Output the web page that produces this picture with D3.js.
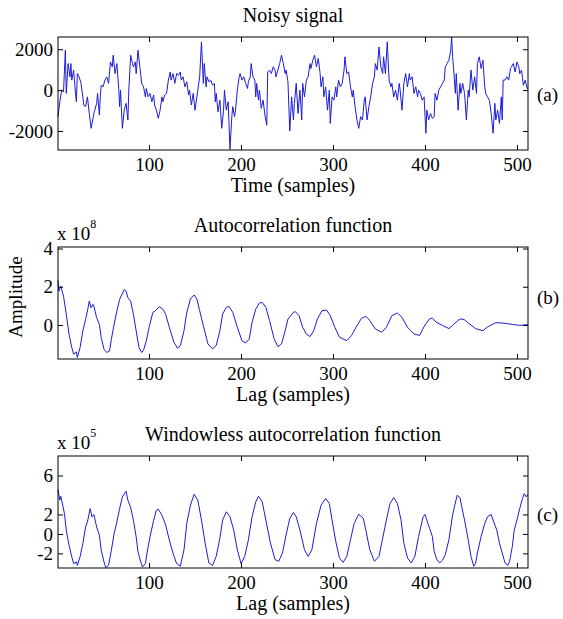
<!DOCTYPE html>
<html>
<head>
<meta charset="utf-8">
<script src="https://cdn.jsdelivr.net/npm/d3@7"></script>
<style>
  body { margin: 0; background: #fff; }
  svg text { font-family: "Liberation Serif", "Times New Roman", serif; fill: #000; }
</style>
</head>
<body>
<svg id="chart" width="563" height="619"></svg>
<script>
// ---------------- DATA ----------------
// (a) Noisy signal: sample index and amplitude
const noisyTime = [1,3,5,7,9,10,12,14,15,16,18,20,21,22,24,26,28,29,31,33,35,37,38,40,43,44,46,47,48,50,52,54,56,58,60,61,63,65,67,68,69,71,73,75,77,78,80,82,83,85,86,88,90,92,94,96,97,99,101,103,105,106,108,110,112,114,115,117,119,121,123,124,126,128,130,132,134,135,137,139,141,143,144,146,148,150,152,153,155,157,159,160,162,163,165,167,169,171,172,173,175,177,179,181,182,184,186,188,190,191,193,194,196,198,199,201,203,205,207,208,210,211,213,215,216,217,219,220,222,224,226,228,229,231,233,235,237,238,240,242,244,246,248,249,251,253,
255,257,258,260,262,264,266,267,269,271,273,275,276,278,280,282,284,286,287,289,290,292,294,296,297,299,301,303,304,306,308,310,312,313,315,317,319,321,322,324,326,328,330,332,334,335,337,339,341,343,345,346,348,350,352,354,355,357,359,361,363,364,366,368,370,372,373,375,377,379,381,383,384,386,388,390,392,393,395,397,399,401,402,404,406,408,410,411,413,415,417,419,421,422,424,426,428,429,430,431,433,434,436,438,439,441,443,445,447,448,450,452,454,456,457,459,461,463,465,466,468,470,472,474,476,477,479,481,483,484,485,487,489,491,493,494,496,498,500,502,503,505,507,509,511,512];
const noisyValues = [-1300,-570,0,-80,1950,-160,1300,650,1300,490,980,-160,-570,810,650,330,-330,-730,-810,-330,-1140,-1870,-1630,-1140,-650,-160,-1220,-330,240,160,490,650,330,1380,1140,1710,810,1300,80,-810,0,-1870,-980,-650,-1460,0,1710,1300,1140,1380,810,1950,1140,330,160,-330,80,-330,-160,-570,-240,-730,-980,-1380,-980,-330,-570,-240,-160,490,890,490,810,330,810,730,890,490,650,160,410,-240,0,-730,-160,-980,-330,0,650,2360,330,1300,160,650,410,490,240,330,-570,-160,-1060,-490,-1870,-980,0,-980,-570,-2900,-1300,-810,-1300,-980,0,650,810,490,650,330,80,410,650,1300,650,490,-330,330,-490,0,-890,-490,-1220,-1710,890,980,810,1140,980,650,980,1300,1710,1300,810,980,410,-2000,
-330,-1460,-650,330,-1140,0,-1460,330,-330,490,650,1300,1060,1460,1710,1140,1550,810,160,650,-330,160,-980,0,-1630,-330,-490,160,-330,490,160,330,980,1630,810,890,160,-330,0,-810,-1460,-1870,-1300,-1460,-490,-330,-1460,-810,-330,330,650,1300,980,2110,1140,810,1630,810,2360,490,160,330,-330,0,-490,330,0,-980,330,810,160,810,490,650,-160,160,-330,0,-160,-490,-330,-2110,-980,-1460,-1140,-1380,-1300,-160,-490,0,160,330,490,1140,1300,1460,1950,2600,1630,1140,-160,810,-980,330,-160,330,-160,-1460,0,-330,980,0,650,-160,1300,1630,1060,1460,160,-160,-330,-490,-1140,-2110,-650,-1460,-980,-1630,-330,-1460,490,490,650,490,1060,1140,1300,890,1380,1140,810,980,240,490,80,100];

// (b) Autocorrelation function: lag and amplitude (x 10^8)
const acfLag = [1,2,4,5,7,10,13,16,18,21,22,25,28,31,33,35,37,39,40,43,46,48,51,54,57,59,62,65,68,73,75,77,80,83,86,89,92,94,97,100,104,107,111,115,118,122,127,131,134,138,141,145,149,152,155,159,164,169,173,177,180,184,187,191,196,201,205,209,212,216,220,223,227,231,236,240,244,248,251,257,259,263,267,271,275,279,283,288,293,297,302,307,315,320,325,331,336,340,346,353,358,364,370,375,381,388,394,400,405,408,412,419,426,430,436,439,443,448,455,463,468,477,485,495,503,512];
const acfValues = [2.33,1.77,2.03,1.86,1.51,0.56,-0.49,-1.18,-1.53,-1.41,-1.70,-1.18,-0.31,0.30,0.73,1.25,0.90,1.08,0.99,0.38,0.03,-0.66,-1.27,-1.44,-1.36,-0.75,0.03,0.73,1.34,1.86,1.77,1.43,1.25,0.56,-0.31,-1.18,-1.44,-1.32,-0.83,-0.14,0.64,0.75,0.96,0.83,0.57,-0.12,-0.90,-1.22,-1.08,-0.30,0.66,1.36,1.57,1.36,0.75,-0.03,-0.99,-1.25,-1.08,-0.30,0.57,0.92,0.97,0.66,-0.12,-0.82,-0.94,-0.73,0.14,0.83,1.15,1.18,0.92,0.23,-0.73,-1.13,-0.99,-0.30,0.31,0.66,0.70,0.49,-0.12,-0.47,-0.61,-0.30,0.31,0.75,0.78,0.49,-0.12,-0.64,-0.82,-0.56,-0.12,0.35,0.45,0.23,-0.21,-0.38,-0.12,0.49,0.63,0.40,-0.12,-0.47,-0.55,0.00,0.32,0.36,0.15,-0.02,-0.19,-0.02,0.24,0.32,0.27,0.07,-0.19,-0.30,-0.10,0.12,0.10,0.03,-0.02,0.02];

// (c) Windowless autocorrelation function: lag and amplitude (x 10^5)
const wacfLag = [1,3,4,5,8,10,13,16,18,21,22,25,28,31,33,36,38,40,43,46,48,51,53,56,59,62,65,68,71,75,77,80,83,86,88,91,93,96,98,101,105,108,110,114,118,122,126,130,134,138,141,145,149,153,157,161,165,169,173,177,180,184,188,192,196,200,204,208,212,216,219,223,227,232,237,241,245,249,253,257,260,264,269,273,277,282,287,292,296,299,303,307,311,315,319,323,328,333,336,340,345,350,354,358,362,366,370,374,377,381,385,389,393,398,400,402,405,408,410,413,416,419,422,426,430,432,435,438,440,443,447,450,453,455,457,461,465,468,472,474,478,481,484,487,490,492,495,497,500,503,506,508,510,512];
const wacfValues = [4.55,3.46,3.87,3.46,2.09,0.38,-1.16,-2.36,-3.05,-2.88,-3.22,-2.36,-0.99,0.72,1.23,2.60,1.75,1.99,0.72,-0.14,-1.68,-2.88,-3.46,-3.22,-1.68,0.03,1.23,2.60,3.80,4.38,3.46,2.71,1.40,-0.31,-1.85,-2.88,-3.39,-3.05,-1.85,-0.31,1.40,2.43,2.54,1.93,0.92,-0.61,-1.97,-3.05,-3.32,-1.63,1.08,2.95,4.07,3.46,1.42,-0.95,-2.98,-3.25,-2.31,-0.44,1.42,2.27,1.76,0.41,-1.63,-3.05,-2.31,-0.61,1.76,3.29,3.86,3.29,1.42,-0.95,-2.64,-2.81,-1.97,-0.10,1.59,2.20,1.76,0.41,-1.63,-2.31,-1.63,1.08,2.95,3.63,3.12,1.42,-0.78,-2.47,-2.92,-2.31,-0.61,1.08,2.03,1.59,0.24,-1.63,-2.81,-2.31,-0.44,1.42,3.12,3.73,3.12,1.42,-0.95,-2.47,-2.98,-2.31,-0.27,1.76,2.00,1.42,0.58,-0.27,-1.80,-2.64,-2.98,-2.71,-2.14,-0.61,1.93,2.78,3.97,3.73,2.78,1.42,-0.61,-2.31,-3.32,-3.05,-1.97,-0.27,1.08,1.76,2.00,1.42,0.41,-0.95,-1.97,-2.98,-3.25,-2.81,-1.27,0.41,1.42,2.61,3.63,4.14,3.80,4.07];

// tick values
const xTicks = [100, 200, 300, 400, 500];
const yTicksA = [-2000, 0, 2000];
const yTicksB = [0, 2, 4];
const yTicksC = [-2, 0, 2, 6];

// ---------------- LAYOUT ----------------
const FONT = '"Liberation Serif", "Times New Roman", serif';
const svg = d3.select("#chart");
const X0 = 58, X1 = 528;
const LINE = "#1c1cd8";
const TICKFS = 19, LABELFS = 20;

const x = d3.scaleLinear().domain([1, 512]).range([X0, X1]);

const panels = [
  { top: 37, bottom: 150, dom: [-2930, 2600], ticks: yTicksA, xs: noisyTime, ys: noisyValues,
    title: "Noisy signal", xlabel: "Time (samples)", tag: "(a)", tagY: 101, exp: null },
  { top: 247, bottom: 359, dom: [-1.78, 4.08], ticks: yTicksB, xs: acfLag, ys: acfValues,
    title: "Autocorrelation function", xlabel: "Lag (samples)", tag: "(b)", tagY: 304, exp: "8" },
  { top: 456, bottom: 568, dom: [-3.5, 8.0], ticks: yTicksC, xs: wacfLag, ys: wacfValues,
    title: "Windowless autocorrelation function", xlabel: "Lag (samples)", tag: "(c)", tagY: 521, exp: "5" }
];

const fmt = d => String(d);

panels.forEach((p, i) => {
  const y = d3.scaleLinear().domain(p.dom).range([p.bottom, p.top]);
  const g = svg.append("g").attr("font-family", FONT);

  // data line
  const pts = p.xs.map((t, k) => [t, p.ys[k]]);
  g.append("path")
    .datum(pts)
    .attr("fill", "none")
    .attr("stroke", LINE)
    .attr("stroke-width", 1)
    .attr("stroke-linejoin", "round")
    .attr("d", d3.line().x(d => x(d[0])).y(d => y(d[1])));

  // axes (ticks inward on all sides)
  const styleAxis = sel => {
    sel.attr("font-family", FONT);
    sel.select(".domain").remove();
    sel.selectAll(".tick line").attr("stroke", "#000").attr("stroke-width", 1);
    sel.selectAll(".tick text").style("font-size", TICKFS + "px").style("font-family", FONT).attr("fill", "#000");
  };
  g.append("g").attr("transform", `translate(0,${p.bottom})`)
    .call(d3.axisBottom(x).tickValues(xTicks).tickSize(-5).tickPadding(8).tickFormat(fmt))
    .call(styleAxis);
  g.append("g").attr("transform", `translate(0,${p.top})`)
    .call(d3.axisTop(x).tickValues(xTicks).tickSize(-5).tickFormat(""))
    .call(styleAxis);
  g.append("g").attr("transform", `translate(${X0},0)`)
    .call(d3.axisLeft(y).tickValues(p.ticks).tickSize(-5).tickPadding(5).tickFormat(fmt))
    .call(styleAxis);
  g.append("g").attr("transform", `translate(${X1},0)`)
    .call(d3.axisRight(y).tickValues(p.ticks).tickSize(-5).tickFormat(""))
    .call(styleAxis);

  // box
  g.append("rect")
    .attr("x", X0).attr("y", p.top)
    .attr("width", X1 - X0).attr("height", p.bottom - p.top)
    .attr("fill", "none").attr("stroke", "#000").attr("stroke-width", 1);

  const txt = (sel, fs) => sel.style("font-family", FONT).style("font-size", fs + "px");

  // title
  g.append("text")
    .attr("x", (X0 + X1) / 2).attr("y", p.top - 15)
    .attr("text-anchor", "middle").call(txt, LABELFS)
    .text(p.title);

  // x label
  g.append("text")
    .attr("x", (X0 + X1) / 2).attr("y", p.bottom + 42)
    .attr("text-anchor", "middle").call(txt, LABELFS)
    .text(p.xlabel);

  // panel tag
  g.append("text")
    .attr("x", 537).attr("y", p.tagY)
    .call(txt, 19)
    .text(p.tag);

  // exponent
  if (p.exp) {
    const t = g.append("text").attr("x", 57).attr("y", p.top - 7).call(txt, TICKFS);
    t.append("tspan").text("x 10");
    t.append("tspan").attr("dy", -12).style("font-size", "12px").text(p.exp);
  }
});

// y label
svg.append("text")
  .attr("transform", "translate(22,297) rotate(-90)")
  .attr("text-anchor", "middle")
  .style("font-family", FONT)
  .style("font-size", "19px")
  .text("Amplitude");
</script>
</body>
</html>
